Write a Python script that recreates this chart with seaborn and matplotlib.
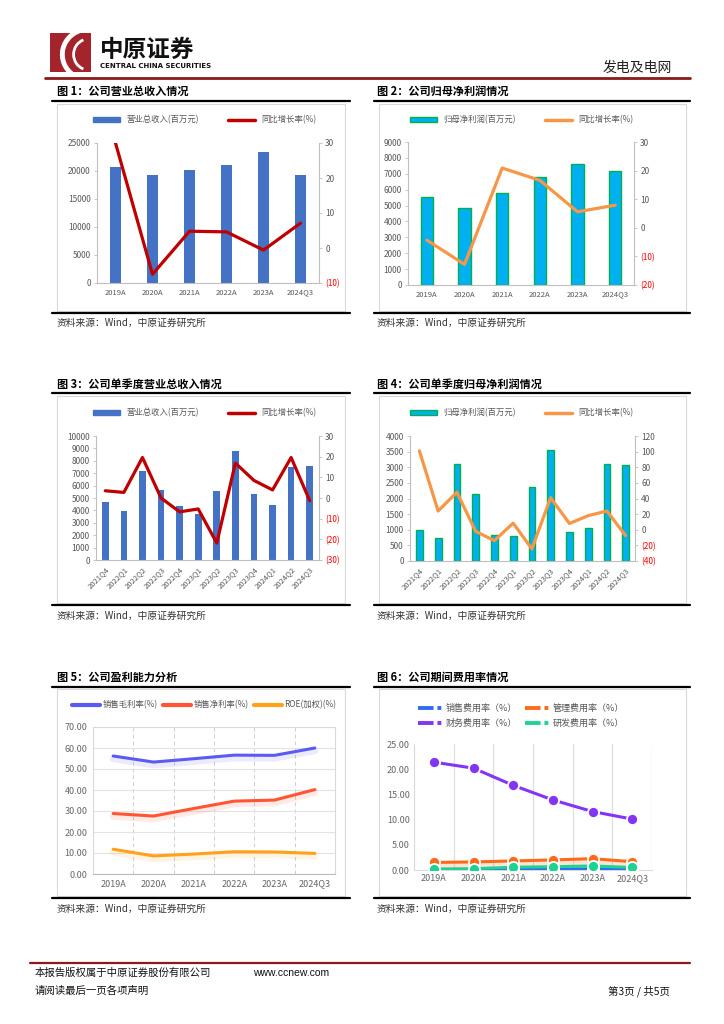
import numpy as np
import matplotlib as mpl
mpl.use('Agg')
import matplotlib.pyplot as plt
import matplotlib.patheffects as pe
from matplotlib.lines import Line2D
from matplotlib.patches import Rectangle, Patch, Arc
import seaborn as sns

# ---- data ----
years = ['2019A', '2020A', '2021A', '2022A', '2023A', '2024Q3']
quarters = ['2021Q4', '2022Q1', '2022Q2', '2022Q3', '2022Q4', '2023Q1',
            '2023Q2', '2023Q3', '2023Q4', '2024Q1', '2024Q2', '2024Q3']

revenue = [20740, 19250, 20140, 21150, 23460, 19370]
revenue_yoy = [30.0, -7.5, 4.8, 4.6, -0.6, 7.1]

net_profit = [5550, 4820, 5820, 6800, 7640, 7200]
net_profit_yoy = [-4.3, -12.8, 20.9, 16.6, 5.6, 7.9]

q_revenue = [4680, 3930, 7180, 5670, 4360, 3740, 5570, 8820, 5320, 4440, 7470, 7550]
q_revenue_yoy = [3.5, 2.7, 19.6, 0.0, -6.7, -5.3, -21.8, 16.9, 8.5, 3.9, 19.6, -1.3]

q_profit = [980, 735, 3115, 2130, 830, 790, 2360, 3560, 940, 1065, 3115, 3075]
q_profit_yoy = [101, 24, 48, -2, -14, 8.5, -24.5, 41, 8, 18, 24, -7.5]

gross_margin = [56.2, 53.3, 54.9, 56.6, 56.5, 60.0]
net_margin = [28.8, 27.6, 31.2, 34.7, 35.2, 40.2]
roe = [11.8, 8.6, 9.5, 10.6, 10.5, 9.8]

sales_exp = [0.1, 0.1, 0.2, 0.2, 0.2, 0.15]
admin_exp = [1.5, 1.6, 1.8, 2.0, 2.25, 1.65]
fin_exp = [21.4, 20.2, 16.8, 13.9, 11.6, 10.1]
rd_exp = [0.2, 0.25, 0.55, 0.65, 0.8, 0.5]

sns.set_style('white')
plt.rcParams['font.family'] = ['Noto Sans CJK SC', 'DejaVu Sans']
plt.rcParams['axes.unicode_minus'] = False

W, H = 724, 1024
fig = plt.figure(figsize=(W / 100, H / 100), dpi=100)
GRAY = '#595959'


def fx(x):
    return x / W


def fy(y):
    return 1 - y / H


def rect(x0, y0, x1, y1):
    return [fx(x0), fy(y1), (x1 - x0) / W, (y1 - y0) / H]


def hline(x0, x1, y, color='black', lw=1.6):
    fig.add_artist(Line2D([fx(x0), fx(x1)], [fy(y), fy(y)], color=color, lw=lw,
                          transform=fig.transFigure))


def box(x0, y0, x1, y1):
    fig.add_artist(Rectangle((fx(x0), fy(y1)), (x1 - x0) / W, (y1 - y0) / H,
                             fill=False, ec='#D9D9D9', lw=0.8, transform=fig.transFigure))


def txt(x, y, s, **kw):
    fig.text(fx(x), fy(y), s, **kw)


def combo(r, cats, bars, growth, bar_c, edge_c, line_c, lticks, rticks,
          bar_label, leg_x, leg_y, rotate=False, width=0.32):
    n = len(cats)
    ax = fig.add_axes(r)
    sns.barplot(x=cats, y=bars, color=bar_c, edgecolor=edge_c,
                linewidth=1.0 if edge_c != bar_c else 0, saturation=1,
                width=width, ax=ax)
    ax.set_xlim(-0.5, n - 0.5)
    ax.set_ylim(lticks[0], lticks[-1])
    ax.set_yticks(lticks)
    ax.set_yticklabels([f'{int(v)}' for v in lticks])
    ax2 = ax.twinx()
    sns.lineplot(x=np.arange(n), y=growth, color=line_c, lw=2.3, ax=ax2)
    ax2.set_ylim(rticks[0], rticks[-1])
    ax2.set_yticks(rticks)
    ax2.set_yticklabels([f'({abs(int(v))})' if v < 0 else f'{int(v)}' for v in rticks])
    for v, lab in zip(rticks, ax2.get_yticklabels()):
        lab.set_color('#FF0000' if v < 0 else GRAY)
    for a in (ax, ax2):
        for s in a.spines.values():
            s.set_visible(False)
        a.set_xlabel('')
        a.set_ylabel('')
    ax.spines['left'].set_visible(True)
    ax.spines['bottom'].set_visible(True)
    ax2.spines['right'].set_visible(True)
    for s in (ax.spines['left'], ax.spines['bottom'], ax2.spines['right']):
        s.set_color('#BFBFBF')
        s.set_linewidth(0.8)
    ax.tick_params(axis='y', labelsize=6, colors=GRAY, length=2.5, width=0.6, color='#BFBFBF', pad=2)
    ax2.tick_params(axis='y', labelsize=6, length=2.5, width=0.6, color='#BFBFBF', pad=2)
    ax.tick_params(axis='x', labelsize=5.5, colors=GRAY, length=0, pad=4)
    if rotate:
        plt.setp(ax.get_xticklabels(), rotation=45, ha='right', rotation_mode='anchor')
    handles = [Patch(facecolor=bar_c, edgecolor=edge_c), Line2D([], [], color=line_c, lw=2.5)]
    fig.legend(handles, [bar_label, '同比增长率(%)'], loc='center',
               bbox_to_anchor=(fx(leg_x), fy(leg_y)), ncol=2, frameon=False,
               fontsize=6, labelcolor=GRAY, handlelength=3.2, handleheight=0.6,
               columnspacing=3.5)


# ---- header ----
lg = fig.add_axes(rect(50, 33, 91, 72))
lg.set_xlim(0, 1)
lg.set_ylim(0, 1)
lg.axis('off')
lg.add_patch(Rectangle((0, 0), 1, 1, color='#A3242A'))
lg.add_patch(Arc((0.95, 0.45), 1.3, 1.3, theta1=100, theta2=235, color='white', lw=3.5))
lg.add_patch(Arc((0.95, 0.45), 0.75, 0.8, theta1=110, theta2=250, color='white', lw=2))
txt(100, 50, '中原证券', fontsize=17, fontweight='bold', va='center', color='#111111')
txt(100, 66, 'CENTRAL CHINA SECURITIES', fontsize=5, fontweight='bold', va='center',
    family=['DejaVu Sans'], color='#111111')
txt(672, 68, '发电及电网', fontsize=10, ha='right', va='center', color='#222222')
hline(45, 690, 78, color='#8B1A1A', lw=2)

# ---- panel frames and captions ----
titles = ['图 1：公司营业总收入情况', '图 2：公司归母净利润情况',
          '图 3：公司单季度营业总收入情况', '图 4：公司单季度归母净利润情况',
          '图 5：公司盈利能力分析', '图 6：公司期间费用率情况']
rows = [(91, 101, 104, 311, 313, 323), (384, 393, 396, 603, 605, 616),
        (677, 687, 689, 896, 898, 909)]
for i, (ty, tl, b0, b1, bl, sy) in enumerate(rows):
    for j, (lx0, lx1, bx0, bx1, tx) in enumerate([(52, 350, 57, 345, 57), (374, 690, 379, 686, 377)]):
        txt(tx, ty, titles[i * 2 + j], fontsize=8, fontweight='bold', va='center', color='black')
        hline(lx0, lx1, tl, lw=1.6)
        box(bx0, b0, bx1, b1)
        hline(lx0, lx1, bl, lw=1.6)
        txt(tx, sy, '资料来源：Wind，中原证券研究所', fontsize=7, va='center', color='#333333')

# ---- charts 1-4 ----
combo(rect(97, 143, 319, 283), years, revenue, revenue_yoy, '#4472C4', '#4472C4', '#C00000',
      np.arange(0, 25001, 5000), np.arange(-10, 31, 10), '营业总收入(百万元)', 205, 120)
combo(rect(408, 142, 634, 285), years, net_profit, net_profit_yoy, '#00B0F0', '#00B050', '#F79646',
      np.arange(0, 9001, 1000), np.arange(-20, 31, 10), '归母净利润(百万元)', 522, 120)
combo(rect(96, 436, 319, 560), quarters, q_revenue, q_revenue_yoy, '#4472C4', '#4472C4', '#C00000',
      np.arange(0, 10001, 1000), np.arange(-30, 31, 10), '营业总收入(百万元)', 205, 413,
      rotate=True, width=0.36)
combo(rect(410, 436, 635, 561), quarters, q_profit, q_profit_yoy, '#00B0F0', '#00B050', '#F79646',
      np.arange(0, 4001, 500), np.arange(-40, 121, 20), '归母净利润(百万元)', 522, 413,
      rotate=True, width=0.36)

# ---- chart 5 ----
ax5 = fig.add_axes(rect(93, 727, 335, 874))
x6 = np.arange(len(years))
c5 = ['#5B5BF2', '#FF5533', '#FFA21A']
for vals, c in zip([gross_margin, net_margin, roe], c5):
    sns.lineplot(x=x6, y=vals, color=c, lw=2.2, ax=ax5,
                 path_effects=[pe.SimpleLineShadow(offset=(0, -2), shadow_color=c, alpha=0.12, linewidth=5),
                               pe.Normal()])
ax5.set_xlim(-0.5, 5.5)
ax5.set_ylim(0, 70)
ax5.set_yticks(np.arange(0, 71, 10))
ax5.set_yticklabels([f'{v:.2f}' for v in np.arange(0, 71, 10)])
ax5.set_xticks(x6)
ax5.set_xticklabels(years)
ax5.set_xticks(np.arange(0.5, 5, 1), minor=True)
ax5.set_axisbelow(True)
ax5.grid(axis='y', color='#E3E3E3', lw=0.8)
ax5.grid(axis='x', which='minor', color='#CFCFCF', lw=0.7, ls=(0, (4, 3)))
ax5.grid(axis='x', which='major', visible=False)
for s in ax5.spines.values():
    s.set_color('#D9D9D9')
    s.set_linewidth(0.8)
ax5.spines['bottom'].set_color('#BBBBBB')
ax5.tick_params(axis='both', which='both', length=0, labelsize=6.5, colors='#666666', pad=4)
h5 = [Line2D([], [], color=c, lw=3) for c in c5]
fig.legend(h5, ['销售毛利率(%)', '销售净利率(%)', 'ROE(加权)(%)'], loc='center',
           bbox_to_anchor=(fx(204), fy(705)), ncol=3, frameon=False, fontsize=6,
           labelcolor='#555555', handlelength=3.4, columnspacing=0.6, handletextpad=0.3)

# ---- chart 6 ----
ax6 = fig.add_axes(rect(414, 744, 652, 870))
c6 = {'销售费用率（%）': '#2F6DF2', '管理费用率（%）': '#FF6A1A',
      '财务费用率（%）': '#8335F5', '研发费用率（%）': '#1DD394'}
ax6.fill_between(x6, admin_exp, color='#FF6A1A', alpha=0.18, lw=0)
ax6.fill_between(x6, rd_exp, color='#1DD394', alpha=0.25, lw=0)
for vals, (lab, c) in zip([sales_exp, admin_exp, fin_exp, rd_exp], c6.items()):
    sns.lineplot(x=x6, y=vals, color=c, lw=2.2, marker='o', markersize=8,
                 markeredgecolor='white', markeredgewidth=1.3, ax=ax6, zorder=3)
ax6.set_xlim(-0.5, 5.5)
ax6.set_ylim(0, 25)
ax6.set_yticks(np.arange(0, 26, 5))
ax6.set_yticklabels([f'{v:.2f}' for v in np.arange(0, 26, 5)])
ax6.set_xticks(x6)
ax6.set_xticklabels(years)
ax6.set_xticks(np.arange(0.5, 6, 1), minor=True)
ax6.grid(axis='x', which='minor', color='#DDDDDD', lw=0.9)
ax6.grid(axis='x', which='major', visible=False)
ax6.grid(axis='y', visible=False)
ax6.set_axisbelow(True)
for k in ('top', 'right'):
    ax6.spines[k].set_visible(False)
for k in ('left', 'bottom'):
    ax6.spines[k].set_color('#D9D9D9')
    ax6.spines[k].set_linewidth(0.8)
ax6.tick_params(axis='both', which='both', length=0, labelsize=6.5, colors='#666666', pad=3)
labs6 = ['销售费用率（%）', '财务费用率（%）', '管理费用率（%）', '研发费用率（%）']
h6 = [Line2D([], [], color=c6[l], lw=2.8, ls=(0, (4, 1, 1, 1))) for l in labs6]
fig.legend(h6, labs6, loc='center', bbox_to_anchor=(fx(521), fy(716)), ncol=2, frameon=False,
           fontsize=6.5, labelcolor='#555555', handlelength=2.8, columnspacing=0.8,
           handletextpad=0.3, labelspacing=0.6)

# ---- footer ----
hline(30, 690, 963, color='#8B1A1A', lw=1.6)
txt(35, 973, '本报告版权属于中原证券股份有限公司', fontsize=7.5, va='center', color='#111111')
txt(253, 973, 'www.ccnew.com', fontsize=7.5, va='center', color='#111111', family=['Liberation Sans'])
txt(35, 991, '请阅读最后一页各项声明', fontsize=7.5, va='center', color='#111111')
txt(670, 991, '第3页 / 共5页', fontsize=7.5, va='center', ha='right', color='#111111')

fig.savefig('out.png', dpi=100)
